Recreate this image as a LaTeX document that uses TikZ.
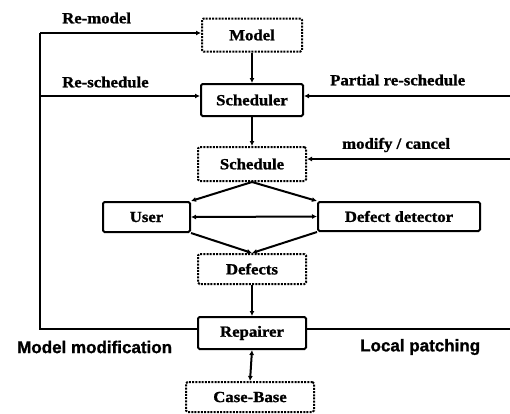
\documentclass[tikz,border=0pt]{standalone}
\usepackage{fontspec}
\setmainfont{Liberation Serif}[FakeStretch=1.1]
\newfontfamily\boldserif{Liberation Serif Bold}[FakeStretch=1.08,FakeBold=1.2]
\newfontfamily\capsans{Liberation Sans Bold}[FakeBold=1.2]
\usetikzlibrary{arrows.meta}
\begin{document}
\begin{tikzpicture}[x=1pt,y=-1pt,
  every node/.style={font=\boldserif\fontsize{15.5}{18}\selectfont, inner sep=0pt},
  solidbox/.style={draw, line width=2pt, rounded corners=1.5pt},
  dotbox/.style={draw, line width=2pt, rounded corners=1.5pt, dash pattern=on 2pt off 1.2pt},
  link/.style={line width=2pt},
  arr/.style={link, -{Latex[length=5pt,width=5pt]}},
  biarr/.style={link, {Latex[length=5pt,width=5pt]}-{Latex[length=5pt,width=5pt]}},
  lbl/.style={anchor=west},
  sanslbl/.style={anchor=west, font=\capsans\fontsize{17}{20}\selectfont}
]
\path[use as bounding box, fill=white] (0,0) rectangle (510,413);

% main column
\node[dotbox, minimum width=100pt, minimum height=33pt] (model) at (252,35) {Model};
\node[solidbox, minimum width=102pt, minimum height=32pt] (sched) at (252,100) {Scheduler};
\node[dotbox, minimum width=108pt, minimum height=34pt] (plan) at (252,164) {Schedule};
\node[solidbox, minimum width=87pt, minimum height=30pt] (user) at (146.5,217) {User};
\node[solidbox, minimum width=162pt, minimum height=29pt] (dd) at (399,216.5) {Defect detector};
\node[dotbox, minimum width=108pt, minimum height=30pt] (defects) at (252,269) {Defects};
\node[solidbox, minimum width=108pt, minimum height=32pt] (rep) at (252,333) {Repairer};
\node[dotbox, minimum width=128pt, minimum height=30pt] (cb) at (250,397) {Case-Base};

% flow down the column
\draw[arr] (model.south) -- (sched.north);
\draw[arr] (sched.south) -- (plan.north);
\draw[arr] (plan.south) -- (user.north east);
\draw[arr] (plan.south) -- (dd.north west);
\draw[biarr] (user.east) -- (dd.west);
\draw[arr] (user.south east) -- (defects.north);
\draw[arr] (dd.south west) -- (defects.north);
\draw[arr] (defects.south) -- (rep.north);
\draw[biarr] (rep.south) -- (cb.north);

% feedback loop on the left
\coordinate (lx) at (40,0);
\draw[link] ([yshift=4pt]rep.west) -- ([yshift=4pt]rep.west -| lx) -- ([yshift=2pt]model.west -| lx);
\draw[arr] ([yshift=2pt]model.west -| lx) -- ([yshift=2pt]model.west);
\draw[arr] ([yshift=4pt]sched.west -| lx) -- ([yshift=4pt]sched.west);

% inputs from the right
\coordinate (rx) at (510,0);
\draw[arr] ([yshift=4pt]sched.east -| rx) -- ([yshift=4pt]sched.east);
\draw[arr] ([yshift=5pt]plan.east -| rx) -- ([yshift=5pt]plan.east);
\draw[link] ([yshift=4pt]rep.east) -- ([yshift=4pt]rep.east -| rx);

% labels
\node[lbl] (tremodel) at (62,18) {Re-model};
\node[lbl] (treschedule) at (62,82) {Re-schedule};
\node[lbl] (tpartial) at (330,80) {Partial re-schedule};
\node[lbl] (tmodify) at (342,145) {modify / cancel};
\node[sanslbl] (tmodmod) at (17,347) {Model modification};
\node[sanslbl] (tlocal) at (360,347) {Local patching};
\end{tikzpicture}
\end{document}
